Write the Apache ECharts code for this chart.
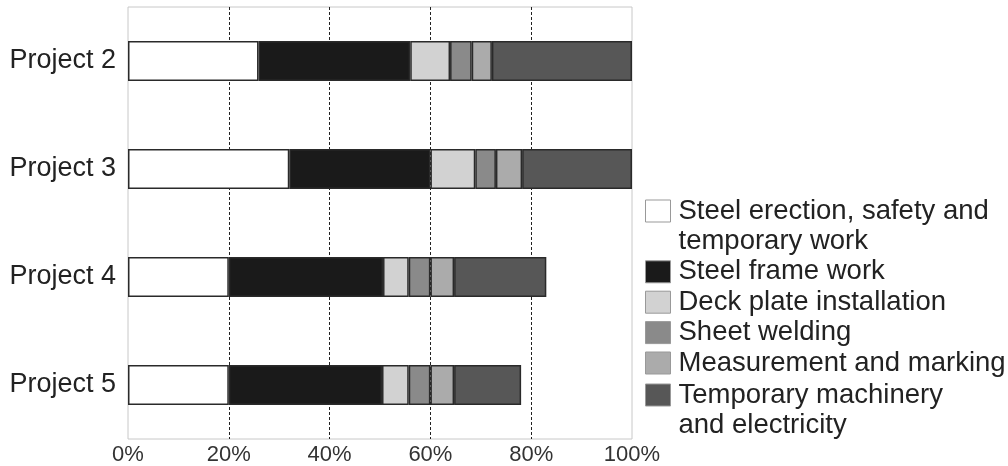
<!DOCTYPE html>
<html>
<head>
<meta charset="utf-8">
<script src="https://cdn.jsdelivr.net/npm/echarts@6/dist/echarts.min.js"></script>
<style>html,body{margin:0;padding:0;background:#fff;}#c{width:1008px;height:466px;}</style>
</head>
<body>
<div id="c"></div>
<script>
const categories = ['Project 2', 'Project 3', 'Project 4', 'Project 5'];
const seriesNames = [
  'Steel erection, safety and\ntemporary work',
  'Steel frame work',
  'Deck plate installation',
  'Sheet welding',
  'Measurement and marking',
  'Temporary machinery\nand electricity'
];
const steelErection = [25.9, 32.0, 20.0, 20.0];
const steelFrame = [30.1, 28.0, 30.6, 30.4];
const deckPlate = [7.9, 8.9, 5.1, 5.3];
const sheetWelding = [4.3, 4.1, 4.3, 4.3];
const measurement = [4.0, 5.2, 4.7, 4.7];
const temporaryMachinery = [27.8, 21.8, 18.3, 13.3];
const xTicks = [0, 20, 40, 60, 80, 100];

const values = [steelErection, steelFrame, deckPlate, sheetWelding, measurement, temporaryMachinery];
const colors = ['#ffffff', '#1a1a1a', '#d2d2d2', '#8a8a8a', '#ababab', '#575757'];
const FONT = 'Liberation Sans';

const chart = echarts.init(document.getElementById('c'));
const series = seriesNames.map((n, i) => ({
  name: n,
  type: 'bar',
  stack: 'total',
  barWidth: 40,
  data: values[i],
  itemStyle: { color: colors[i], borderColor: '#2a2a2a', borderWidth: 1.5 },
  emphasis: { disabled: true }
}));

// Multi-line names get an empty first line so the icon lines up with the first text line
const legendFormatter = name => name.indexOf('\n') >= 0 ? '\n' + name : name;
const legendText = { fontFamily: FONT, fontSize: 27.5, color: '#222', lineHeight: 30.4, padding: [0, 0, 0, 3] };
const legendBase = {
  orient: 'vertical', left: 645, padding: 0, itemGap: 0,
  itemWidth: 25, itemHeight: 22, icon: 'rect', selectedMode: false,
  textStyle: legendText, formatter: legendFormatter,
  itemStyle: { borderColor: '#999', borderWidth: 1 }
};
chart.setOption({
  animation: false,
  textStyle: { fontFamily: FONT },
  grid: { left: 128, right: 376, top: 7, bottom: 26, show: true, borderColor: '#c8c8c8', borderWidth: 1 },
  xAxis: {
    type: 'value', min: xTicks[0], max: xTicks[xTicks.length - 1], interval: 20,
    axisLine: { show: false }, axisTick: { show: false },
    axisLabel: { formatter: '{value}%', fontFamily: FONT, fontSize: 22, color: '#333', margin: 5 },
    splitLine: { show: true, lineStyle: { color: ['rgba(0,0,0,0)', '#222', '#222', '#222', '#222', 'rgba(0,0,0,0)'], type: [3, 2], width: 1 } }
  },
  yAxis: {
    type: 'category', data: categories, inverse: true,
    axisLine: { show: false }, axisTick: { show: false },
    axisLabel: { fontFamily: FONT, fontSize: 27, color: '#222', margin: 12 }
  },
  legend: [
    Object.assign({}, legendBase, { top: 211 - 45.6, data: seriesNames.slice(0, 5) }),
    Object.assign({}, legendBase, { top: 395 - 45.6, data: seriesNames.slice(5) })
  ],
  series: series
});
</script>
</body>
</html>
